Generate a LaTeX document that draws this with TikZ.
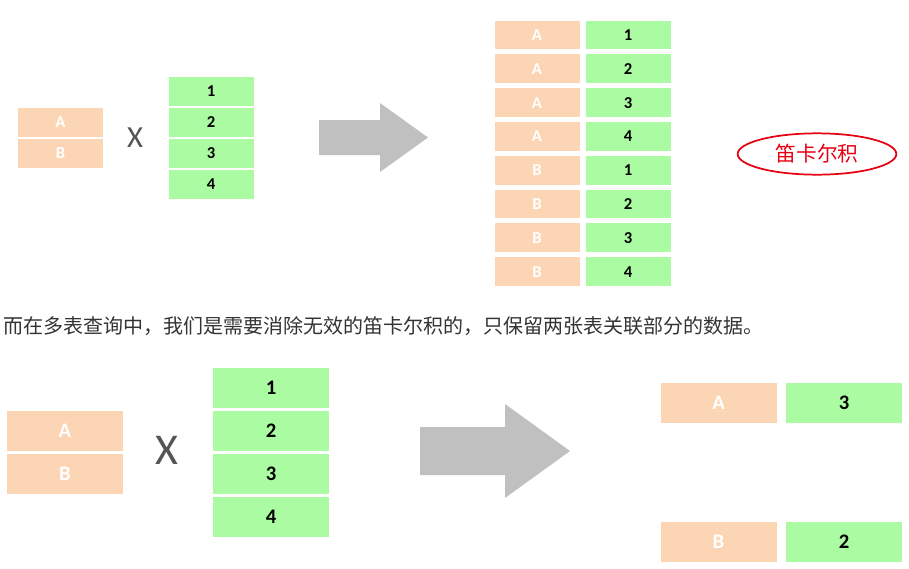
\documentclass[tikz,border=0pt]{standalone}
\usepackage{fontspec}
\setmainfont{Carlito}
\newfontfamily\cjk{Noto Sans CJK SC}
\usetikzlibrary{shapes.geometric}
\definecolor{peach}{HTML}{FCD5B5}
\definecolor{mint}{HTML}{AAFBA1}
\definecolor{arrowgray}{HTML}{C0C0C0}
\definecolor{timesgray}{HTML}{555555}
\definecolor{inkred}{HTML}{E60012}
\definecolor{prose}{HTML}{333333}
\tikzset{
  ca/.style    ={fill=peach, inner sep=0pt, minimum width=63.75pt, minimum height=21.5pt, text=white, font=\bfseries\fontsize{12.5}{14}\selectfont},
  cg/.style    ={fill=mint,  inner sep=0pt, minimum width=63.75pt, minimum height=21.5pt, text=black, font=\bfseries\fontsize{12.5}{14}\selectfont},
  bca/.style   ={ca, minimum width=87pt, minimum height=30pt, font=\bfseries\fontsize{15.5}{18}\selectfont},
  bcg/.style   ={cg, minimum width=87pt, minimum height=30pt, font=\bfseries\fontsize{15.5}{18}\selectfont},
  times/.style ={inner sep=0pt, text=timesgray},
  bigarr/.style={fill=arrowgray},
  oval/.style  ={ellipse, draw=inkred, line width=1.3pt, minimum width=119pt, minimum height=31pt, text=inkred, font=\cjk\fontsize{15.5}{18}\selectfont},
  note/.style  ={anchor=west, inner sep=0pt, text=prose, font=\cjk\fontsize{15}{18}\selectfont},
}

\begin{document}
\begin{tikzpicture}[x=0.75pt,y=-0.75pt]
    \useasboundingbox (0,0) rectangle (909,568);

    % top: A,B x 1..4
    \node[ca] (ta) at (60.5,122.5) {A};
    \node[ca] (tb) at (60.5,153.5) {B};
    \node[times,font=\fontsize{23}{26}\selectfont] (tx) at (135,138) {X};
    \node[cg] (t1) at (211,91.5) {1};
    \node[cg] (t2) at (211,122.5) {2};
    \node[cg] (t3) at (211,153.5) {3};
    \node[cg] (t4) at (211,184.5) {4};

    \fill[bigarr] (319,120) -- (380,120) -- (380,103) -- (428,137.5) -- (380,172) -- (380,155) -- (319,155) -- cycle;

    \node[ca] (ra1) at (537,35)    {A};  \node[cg] (rn1) at (628,35)    {1};
    \node[ca] (ra2) at (537,68.8)  {A};  \node[cg] (rn2) at (628,68.8)  {2};
    \node[ca] (ra3) at (537,102.6) {A};  \node[cg] (rn3) at (628,102.6) {3};
    \node[ca] (ra4) at (537,136.4) {A};  \node[cg] (rn4) at (628,136.4) {4};
    \node[ca] (rb1) at (537,170.2) {B};  \node[cg] (rm1) at (628,170.2) {1};
    \node[ca] (rb2) at (537,204)   {B};  \node[cg] (rm2) at (628,204)   {2};
    \node[ca] (rb3) at (537,237.8) {B};  \node[cg] (rm3) at (628,237.8) {3};
    \node[ca] (rb4) at (537,271.6) {B};  \node[cg] (rm4) at (628,271.6) {4};

    \node[oval] (dkej) at (817,154) {笛卡尔积};

    \node[note] (txt) at (3,326) {而在多表查询中，我们是需要消除无效的笛卡尔积的，只保留两张表关联部分的数据。};

    % bottom: keep only the joined rows
    \node[bca] (ba) at (65,431) {A};
    \node[bca] (bb) at (65,474) {B};
    \node[times,font=\fontsize{33}{36}\selectfont] (bx) at (167,450) {X};
    \node[bcg] (b1) at (271,388) {1};
    \node[bcg] (b2) at (271,431) {2};
    \node[bcg] (b3) at (271,474) {3};
    \node[bcg] (b4) at (271,517) {4};

    \fill[bigarr] (420,427) -- (505,427) -- (505,404) -- (570,451) -- (505,498) -- (505,475) -- (420,475) -- cycle;

    \node[bca] (ka) at (718.5,402.5) {A};  \node[bcg] (k3) at (844,402.5) {3};
    \node[bca] (kb) at (718.5,541.5) {B};  \node[bcg] (k2) at (844,541.5) {2};
  \end{tikzpicture}
\end{document}
